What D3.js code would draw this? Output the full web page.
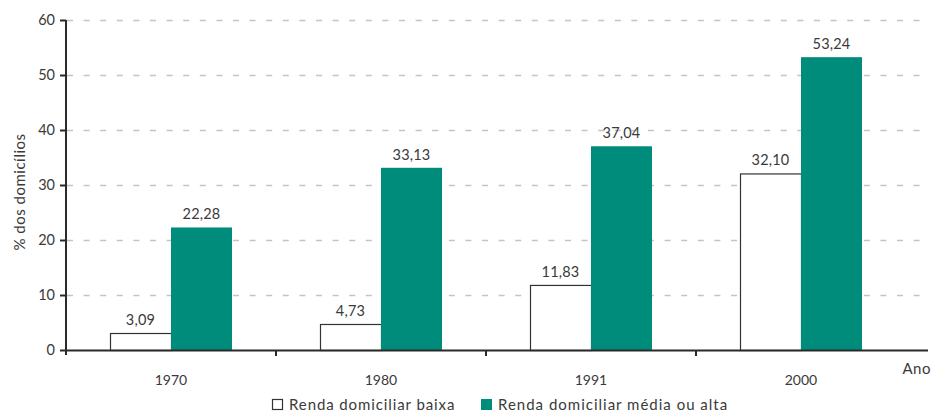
<!DOCTYPE html>
<html>
<head>
<meta charset="utf-8">
<script src="https://cdn.jsdelivr.net/npm/d3@7"></script>
<style>
  body { margin: 0; background: #fff; }
  svg text { font-family: Lato, "Open Sans", sans-serif; fill: #3a3a3a; }
</style>
</head>
<body>
<svg id="chart" width="933" height="412"></svg>
<script>
// dados do gráfico
const anos = ['1970', '1980', '1991', '2000'];
const rendaBaixa = [3.09, 4.73, 11.83, 32.10];
const rendaMediaAlta = [22.28, 33.13, 37.04, 53.24];
const yTicks = [0, 10, 20, 30, 40, 50, 60];
const series = ['Renda domiciliar baixa', 'Renda domiciliar média ou alta'];

const teal = '#008c7a';
const svg = d3.select('#chart');

const x = d3.scaleBand().domain(anos).range([66, 906]);
const y = d3.scaleLinear().domain([0, 60]).range([350, 20]);
const barW = 61;

// grade tracejada
svg.append('g')
  .selectAll('line')
  .data(yTicks.filter(d => d > 0))
  .join('line')
  .attr('x1', 67).attr('x2', 928)
  .attr('y1', d => y(d) + 0.5).attr('y2', d => y(d) + 0.5)
  .attr('stroke', '#c4c4c4')
  .attr('stroke-width', 1.6)
  .attr('stroke-dasharray', '6,10.6');

const rows = anos.map((a, i) => ({ano: a, baixa: rendaBaixa[i], alta: rendaMediaAlta[i]}));
const fmt = v => v.toFixed(2).replace('.', ',');

const g = svg.append('g')
  .selectAll('g')
  .data(rows)
  .join('g')
  .attr('transform', d => `translate(${x(d.ano) + x.bandwidth() / 2},0)`);

g.append('rect')
  .attr('x', -barW + 0.5)
  .attr('y', d => y(d.baixa) + 0.5)
  .attr('width', barW)
  .attr('height', d => y(0) - y(d.baixa))
  .attr('fill', '#fff')
  .attr('stroke', '#333')
  .attr('stroke-width', 1.2);

g.append('rect')
  .attr('x', 0)
  .attr('y', d => y(d.alta))
  .attr('width', barW)
  .attr('height', d => y(0) - y(d.alta))
  .attr('fill', teal);

g.append('text')
  .attr('x', -barW / 2)
  .attr('y', d => y(d.baixa) - 8)
  .attr('text-anchor', 'middle')
  .attr('font-size', 14.5)
  .attr('letter-spacing', 0.2)
  .text(d => fmt(d.baixa));

g.append('text')
  .attr('x', barW / 2)
  .attr('y', d => y(d.alta) - 8)
  .attr('text-anchor', 'middle')
  .attr('font-size', 14.5)
  .attr('letter-spacing', 0.2)
  .text(d => fmt(d.alta));

// eixo y
const yAxis = svg.append('g')
  .attr('transform', 'translate(66,0)')
  .call(d3.axisLeft(y).tickValues(yTicks).tickSize(6).tickPadding(5));
yAxis.select('.domain').attr('d', 'M0,20V355').attr('stroke', '#2a2a2a').attr('stroke-width', 2);
yAxis.selectAll('.tick line').attr('stroke', '#2a2a2a').attr('stroke-width', 2);
yAxis.selectAll('.tick text').attr('font-size', 14.5).attr('font-family', 'Lato, sans-serif').attr('fill', '#3a3a3a');

// eixo x
svg.append('line')
  .attr('x1', 66).attr('x2', 928)
  .attr('y1', 350.5).attr('y2', 350.5)
  .attr('stroke', '#2a2a2a').attr('stroke-width', 2);

svg.append('g')
  .selectAll('line')
  .data(anos.slice(1))
  .join('line')
  .attr('x1', d => x(d)).attr('x2', d => x(d))
  .attr('y1', 350).attr('y2', 356)
  .attr('stroke', '#2a2a2a').attr('stroke-width', 2);

svg.append('g')
  .selectAll('text')
  .data(anos)
  .join('text')
  .attr('x', d => x(d) + x.bandwidth() / 2)
  .attr('y', 385)
  .attr('text-anchor', 'middle')
  .attr('font-size', 14)
  .text(d => d);

svg.append('text')
  .attr('x', 931).attr('y', 374)
  .attr('text-anchor', 'end')
  .attr('font-size', 15)
  .attr('letter-spacing', 0.5)
  .text('Ano');

svg.append('text')
  .attr('transform', 'translate(25,192) rotate(-90)')
  .attr('text-anchor', 'middle')
  .attr('font-size', 15)
  .attr('letter-spacing', 0.5)
  .text('% dos domicílios');

// legenda
const leg = svg.append('g').attr('transform', 'translate(272,399)');
leg.append('rect').attr('x', 0.5).attr('y', 0.5).attr('width', 10).attr('height', 10)
  .attr('fill', '#fff').attr('stroke', '#333').attr('stroke-width', 1.2);
leg.append('text').attr('x', 17).attr('y', 11).attr('font-size', 15).attr('letter-spacing', 0.9).text(series[0]);
leg.append('rect').attr('x', 209).attr('y', 0).attr('width', 11).attr('height', 11).attr('fill', teal);
leg.append('text').attr('x', 226).attr('y', 11).attr('font-size', 15).attr('letter-spacing', 1.0).text(series[1]);
</script>
</body>
</html>
